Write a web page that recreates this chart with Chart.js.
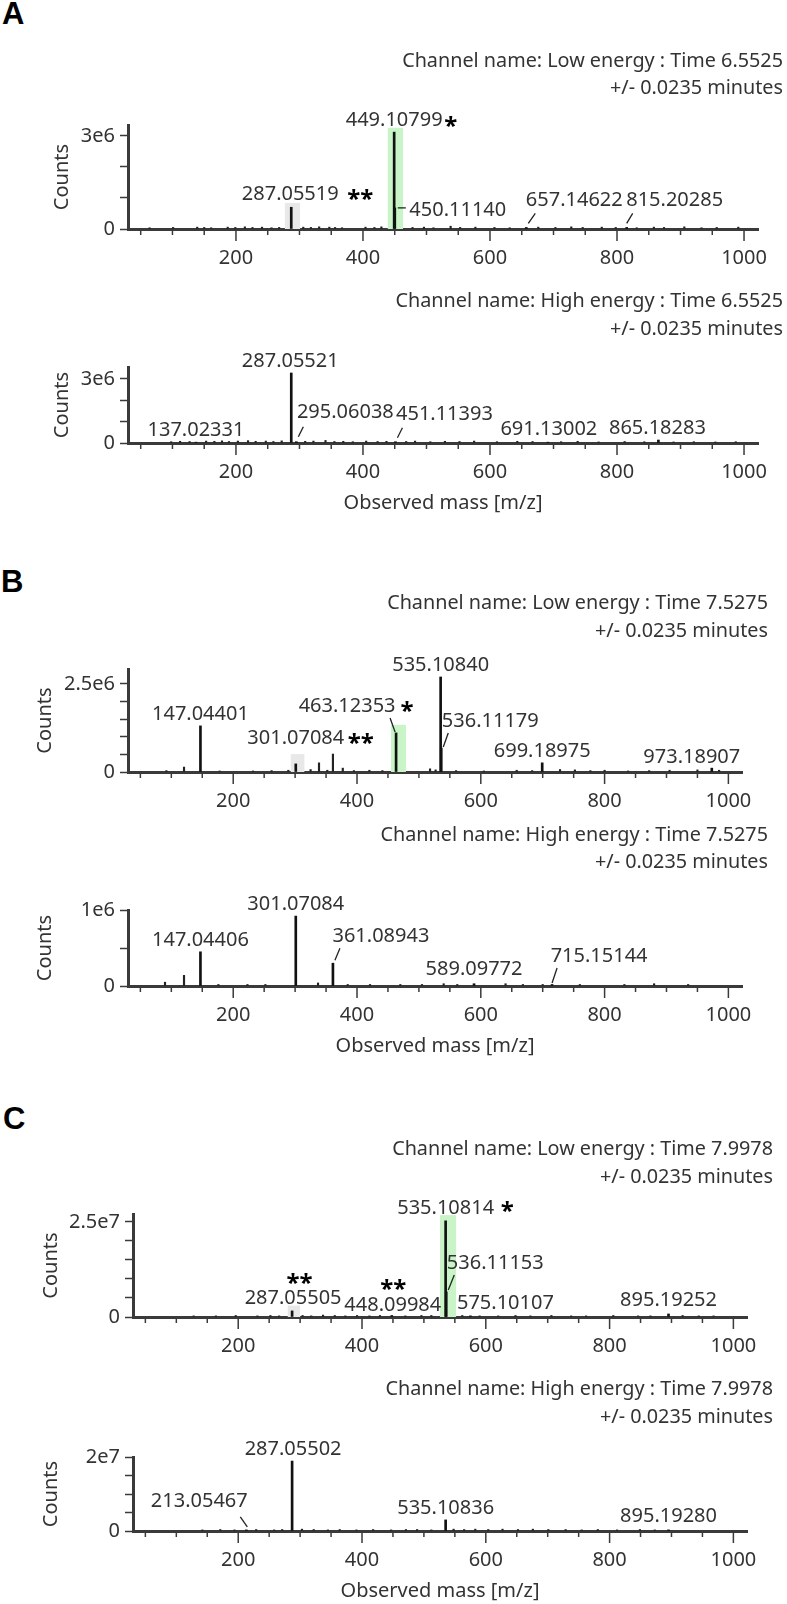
<!DOCTYPE html>
<html>
<head>
<meta charset="utf-8">
<script src="https://cdn.jsdelivr.net/npm/chart.js@4.4.1/dist/chart.umd.min.js"></script>
<style>
  html, body { margin: 0; padding: 0; background: #fff; overflow: hidden; }
  body { width: 787px; height: 1604px; position: relative; font-family: 'Noto Sans', sans-serif; color: #333; }
  canvas { position: absolute; left: 0; }
  .letter { position: absolute; font: bold 31px 'Liberation Sans', Arial, sans-serif; line-height: 31px; color: #000; }
  .chan { position: absolute; font-size: 19.8px; line-height: 27.5px; text-align: right; white-space: nowrap; }
</style>
</head>
<body>
<div class="letter" style="left:2px;top:-2px">A</div>
<div class="letter" style="left:1px;top:566px">B</div>
<div class="letter" style="left:3px;top:1103px">C</div>
<script>
// === shared m/z axis ===
const mzRange = [30, 1022];
const mzTickLabels = [200, 400, 600, 800, 1000];

// === A: low energy ===
const aLowTitle = ['Channel name: Low energy : Time 6.5525', '+/- 0.0235 minutes'];
const aLowMz = [287.05519, 449.10799, 450.11140, 657.14622, 815.20285];
const aLowCounts = [0.70e6, 3.12e6, 0.68e6, 0.05e6, 0.05e6];
const aLowText = ['287.05519', '449.10799', '450.11140', '657.14622', '815.20285'];
const aLowMarks = ['**', '*', '', '', ''];
const aLowOtherMz = [64, 101, 139, 150, 161, 187, 199, 214, 226, 241, 256, 268, 306, 318, 331, 347, 356, 367, 404, 418, 429, 478, 496, 511, 538, 553, 577, 607, 631, 676, 703, 728, 746, 776, 798, 831, 858, 874, 906, 933, 957, 991];
const aLowOtherCounts = [0.04e6, 0.05e6, 0.06e6, 0.05e6, 0.04e6, 0.06e6, 0.05e6, 0.07e6, 0.05e6, 0.06e6, 0.04e6, 0.05e6, 0.06e6, 0.05e6, 0.07e6, 0.06e6, 0.05e6, 0.04e6, 0.06e6, 0.05e6, 0.07e6, 0.05e6, 0.06e6, 0.04e6, 0.09e6, 0.05e6, 0.06e6, 0.05e6, 0.04e6, 0.06e6, 0.05e6, 0.07e6, 0.05e6, 0.06e6, 0.05e6, 0.04e6, 0.06e6, 0.05e6, 0.07e6, 0.04e6, 0.05e6, 0.06e6];
const aLowBands = [[277, 301, 0.84e6], [439, 463, 3.26e6]];
const aLowYTicks = [0, 3e6];
const aLowYTickText = ['0', '3e6'];

// === A: high energy ===
const aHighTitle = ['Channel name: High energy : Time 6.5525', '+/- 0.0235 minutes'];
const aHighMz = [137.02331, 287.05521, 295.06038, 451.11393, 691.13002, 865.18283];
const aHighCounts = [0.04e6, 3.28e6, 0.06e6, 0.06e6, 0.04e6, 0.14e6];
const aHighText = ['137.02331', '287.05521', '295.06038', '451.11393', '691.13002', '865.18283'];
const aHighMarks = ['', '', '', '', '', ''];
const aHighOtherMz = [98, 112, 127, 153, 166, 178, 189, 203, 219, 231, 247, 259, 272, 309, 322, 341, 355, 369, 384, 405, 423, 437, 468, 482, 506, 529, 552, 575, 611, 643, 667, 712, 738, 771, 812, 843, 889, 921, 955, 987];
const aHighOtherCounts = [0.06e6, 0.08e6, 0.07e6, 0.09e6, 0.08e6, 0.10e6, 0.07e6, 0.09e6, 0.11e6, 0.08e6, 0.09e6, 0.07e6, 0.10e6, 0.08e6, 0.09e6, 0.12e6, 0.07e6, 0.08e6, 0.06e6, 0.09e6, 0.07e6, 0.08e6, 0.07e6, 0.09e6, 0.06e6, 0.08e6, 0.07e6, 0.09e6, 0.06e6, 0.08e6, 0.07e6, 0.06e6, 0.08e6, 0.05e6, 0.07e6, 0.06e6, 0.05e6, 0.06e6, 0.05e6, 0.06e6];
const aHighYTicks = [0, 3e6];
const aHighYTickText = ['0', '3e6'];

// === B: low energy ===
const bLowTitle = ['Channel name: Low energy : Time 7.5275', '+/- 0.0235 minutes'];
const bLowMz = [147.04401, 301.07084, 463.12353, 535.10840, 536.11179, 699.18975, 973.18907];
const bLowCounts = [1.31e6, 0.23e6, 1.11e6, 2.70e6, 0.68e6, 0.26e6, 0.11e6];
const bLowText = ['147.04401', '301.07084', '463.12353', '535.10840', '536.11179', '699.18975', '973.18907'];
const bLowMarks = ['', '**', '*', '', '', '', ''];
const bLowOtherMz = [92, 120.5, 178, 232, 262, 289, 325, 338.6, 352, 361.1, 377, 395, 420, 441, 518, 527, 560, 605, 658, 683, 728, 752, 777, 800, 838, 872, 905, 950, 985];
const bLowOtherCounts = [0.04e6, 0.14e6, 0.03e6, 0.03e6, 0.04e6, 0.05e6, 0.07e6, 0.26e6, 0.05e6, 0.51e6, 0.11e6, 0.04e6, 0.05e6, 0.04e6, 0.09e6, 0.06e6, 0.04e6, 0.03e6, 0.05e6, 0.04e6, 0.07e6, 0.06e6, 0.04e6, 0.05e6, 0.03e6, 0.04e6, 0.05e6, 0.06e6, 0.05e6];
const bLowBands = [[293, 315, 0.51e6], [455, 479, 1.34e6]];
const bLowYTicks = [0, 2.5e6];
const bLowYTickText = ['0', '2.5e6'];

// === B: high energy ===
const bHighTitle = ['Channel name: High energy : Time 7.5275', '+/- 0.0235 minutes'];
const bHighMz = [147.04406, 301.07084, 361.08943, 589.09772, 715.15144];
const bHighCounts = [0.45e6, 0.92e6, 0.30e6, 0.03e6, 0.02e6];
const bHighText = ['147.04406', '301.07084', '361.08943', '589.09772', '715.15144'];
const bHighMarks = ['', '', '', '', ''];
const bHighOtherMz = [89.8, 120.5, 176, 223, 252, 337, 385, 421, 470, 505, 540, 562, 640, 668, 700, 760, 832, 880, 935];
const bHighOtherCounts = [0.05e6, 0.14e6, 0.02e6, 0.02e6, 0.02e6, 0.04e6, 0.02e6, 0.02e6, 0.02e6, 0.02e6, 0.03e6, 0.02e6, 0.03e6, 0.02e6, 0.02e6, 0.02e6, 0.02e6, 0.03e6, 0.02e6];
const bHighYTicks = [0, 1e6];
const bHighYTickText = ['0', '1e6'];

// === C: low energy ===
const cLowTitle = ['Channel name: Low energy : Time 7.9978', '+/- 0.0235 minutes'];
const cLowMz = [287.05505, 448.09984, 535.10814, 536.11153, 575.10107, 895.19252];
const cLowCounts = [0.16e7, 0.04e7, 2.53e7, 0.66e7, 0.03e7, 0.08e7];
const cLowText = ['287.05505', '448.09984', '535.10814', '536.11153', '575.10107', '895.19252'];
const cLowMarks = ['**', '**', '*', '', '', ''];
const cLowOtherMz = [128, 164, 196, 231, 252, 266, 304, 318, 337, 356, 373, 392, 412, 429, 470, 496, 512, 562, 590, 620, 648, 672, 706, 738, 762, 806, 846, 866, 918, 944, 968];
const cLowOtherCounts = [0.03e7, 0.03e7, 0.04e7, 0.03e7, 0.04e7, 0.03e7, 0.04e7, 0.03e7, 0.05e7, 0.04e7, 0.03e7, 0.04e7, 0.03e7, 0.04e7, 0.03e7, 0.04e7, 0.04e7, 0.04e7, 0.03e7, 0.03e7, 0.04e7, 0.03e7, 0.04e7, 0.03e7, 0.03e7, 0.04e7, 0.03e7, 0.03e7, 0.04e7, 0.03e7, 0.03e7];
const cLowBands = [[280, 300, 0.30e7], [526, 552, 2.68e7]];
const cLowYTicks = [0, 2.5e7];
const cLowYTickText = ['0', '2.5e7'];

// === C: high energy ===
const cHighTitle = ['Channel name: High energy : Time 7.9978', '+/- 0.0235 minutes'];
const cHighMz = [213.05467, 287.05502, 535.10836, 895.19280];
const cHighCounts = [0.03e7, 1.89e7, 0.30e7, 0.03e7];
const cHighText = ['213.05467', '287.05502', '535.10836', '895.19280'];
const cHighMarks = ['', '', '', ''];
const cHighOtherMz = [142, 171, 194, 229, 258, 271, 303, 322, 345, 364, 391, 418, 447, 471, 489, 512, 548, 565, 583, 604, 627, 652, 676, 701, 729, 755, 781, 812, 849, 873];
const cHighOtherCounts = [0.03e7, 0.04e7, 0.03e7, 0.04e7, 0.03e7, 0.04e7, 0.05e7, 0.04e7, 0.03e7, 0.04e7, 0.03e7, 0.04e7, 0.03e7, 0.04e7, 0.04e7, 0.03e7, 0.05e7, 0.04e7, 0.05e7, 0.04e7, 0.05e7, 0.04e7, 0.05e7, 0.04e7, 0.04e7, 0.03e7, 0.04e7, 0.03e7, 0.04e7, 0.03e7];
const cHighYTicks = [0, 2e7];
const cHighYTickText = ['0', '2e7'];

// --- styles ---
const ink = '#333';
const axisInk = '#3a3a3a';
const bandColors = ['#e8e8e8', '#c8f4c8'];   // grey = aglycone, green = precursor
Chart.defaults.font.family = "'Noto Sans', sans-serif";
Chart.defaults.font.size = 20;
Chart.defaults.color = ink;

// label offsets (px) from each peak tip, leader strokes and star offsets from label centre
const panels = [
  { title: aLowTitle, mz: aLowMz, counts: aLowCounts, text: aLowText, marks: aLowMarks,
    otherMz: aLowOtherMz, otherCounts: aLowOtherCounts, bands: aLowBands, yTicks: aLowYTicks, yTickText: aLowYTickText,
    yMax: 3.35e6, yStep: 1e6, left: 128, right: 758, top: 125, base: 229, countsX: 62,
    titleRight: 783, titleY: 60, xTitle: false,
    pos: [[-1, -14], [0, -13], [63, 1.5], [48, -28], [48, -28]],
    leaders: [null, null, [3, 0, 11, 0], [2, -4, 9, -14], [0, -4, 6, -14]],
    markPos: [[70, 0.5], [56.5, 1.5], null, null, null] },
  { title: aHighTitle, mz: aHighMz, counts: aHighCounts, text: aHighText, marks: aHighMarks,
    otherMz: aHighOtherMz, otherCounts: aHighOtherCounts, bands: [], yTicks: aHighYTicks, yTickText: aHighYTickText,
    yMax: 3.56e6, yStep: 1e6, left: 128, right: 758, top: 367, base: 443, countsX: 62,
    titleRight: 783, titleY: 300.5, xTitle: true,
    pos: [[0, -13], [-1, -13], [49, -31], [49, -29], [1, -14], [-1, -13.5]],
    leaders: [null, null, [2, -5, 7, -15], [2, -4, 7, -14], null, null],
    markPos: [null, null, null, null, null, null] },
  { title: bLowTitle, mz: bLowMz, counts: bLowCounts, text: bLowText, marks: bLowMarks,
    otherMz: bLowOtherMz, otherCounts: bLowOtherCounts, bands: bLowBands, yTicks: bLowYTicks, yTickText: bLowYTickText,
    yMax: 2.926e6, yStep: 0.5e6, left: 128, right: 742, top: 669, base: 772, countsX: 45,
    titleRight: 768, titleY: 602.5, xTitle: false,
    pos: [[0, -13], [0, -26.5], [-49, -27.5], [0, -12.5], [49, -28.5], [0, -12.5], [-20, -12.5]],
    leaders: [null, null, [-6, -15, -1, -1], null, [2, -1, 7, -15], null, null],
    markPos: [null, [65, 0.5], [60, 0.5], null, null, null, null] },
  { title: bHighTitle, mz: bHighMz, counts: bHighCounts, text: bHighText, marks: bHighMarks,
    otherMz: bHighOtherMz, otherCounts: bHighOtherCounts, bands: [], yTicks: bHighYTicks, yTickText: bHighYTickText,
    yMax: 1.0e6, yStep: 0.5e6, left: 128, right: 742, top: 910, base: 986, countsX: 45,
    titleRight: 768, titleY: 834, xTitle: true,
    pos: [[0, -12.5], [0, -13.5], [48, -28.5], [0, -16], [47, -29]],
    leaders: [null, null, [2, -3, 7, -15], null, [0, -1.5, 5, -16.5]],
    markPos: [null, null, null, null, null] },
  { title: cLowTitle, mz: cLowMz, counts: cLowCounts, text: cLowText, marks: cLowMarks,
    otherMz: cLowOtherMz, otherCounts: cLowOtherCounts, bands: cLowBands, yTicks: cLowYTicks, yTickText: cLowYTickText,
    yMax: 2.71e7, yStep: 0.5e7, left: 133, right: 747, top: 1214, base: 1317, countsX: 51,
    titleRight: 773, titleY: 1148.5, xTitle: false,
    pos: [[1, -13.5], [1, -11], [0, -13.5], [49, -29.5], [35, -13.5], [0, -14.5]],
    leaders: [null, null, null, [2, -2, 8, -17], null, null],
    markPos: [[6.5, -19.5], [0.5, -20.5], [61.5, -1.5], null, null, null] },
  { title: cHighTitle, mz: cHighMz, counts: cHighCounts, text: cHighText, marks: cHighMarks,
    otherMz: cHighOtherMz, otherCounts: cHighOtherCounts, bands: [], yTicks: cHighYTicks, yTickText: cHighYTickText,
    yMax: 2.0e7, yStep: 0.5e7, left: 133, right: 747, top: 1457, base: 1531, countsX: 51,
    titleRight: 773, titleY: 1388.5, xTitle: true,
    pos: [[-47, -29.5], [1, -13.5], [0, -12.5], [0, -14.5]],
    leaders: [[-6, -13, 1, -3], null, null, null],
    markPos: [null, null, null, null] }
];

// bands, x tick marks, peak labels
function spectrumNotes(p) {
  return {
    id: 'spectrumNotes',
    beforeDatasetsDraw(chart) {
      const { ctx } = chart, x = chart.scales.x, y = chart.scales.y;
      ctx.save();
      p.bands.forEach((b, i) => {
        const x0 = x.getPixelForValue(b[0]), x1 = x.getPixelForValue(b[1]);
        const yt = y.getPixelForValue(b[2]), y0 = y.getPixelForValue(0);
        ctx.fillStyle = bandColors[i];
        ctx.fillRect(x0, yt, x1 - x0, y0 - yt);
      });
      ctx.restore();
    },
    afterDraw(chart) {
      const { ctx, chartArea } = chart, x = chart.scales.x, y = chart.scales.y;
      ctx.save();
      ctx.strokeStyle = axisInk;
      ctx.lineWidth = 1.5;
      x.ticks.forEach(t => {
        const px = x.getPixelForValue(t.value);
        const len = mzTickLabels.includes(t.value) ? 12 : 6;
        ctx.beginPath();
        ctx.moveTo(px, chartArea.bottom);
        ctx.lineTo(px, chartArea.bottom + len);
        ctx.stroke();
      });
      ctx.textAlign = 'center';
      ctx.textBaseline = 'alphabetic';
      p.mz.forEach((m, i) => {
        const px = x.getPixelForValue(m), py = y.getPixelForValue(p.counts[i]);
        const tx = px + p.pos[i][0], ty = py + p.pos[i][1];
        ctx.font = "20px 'Noto Sans'";
        ctx.fillStyle = ink;
        ctx.fillText(p.text[i], tx, ty + 7);
        const l = p.leaders[i];
        if (l) {
          ctx.strokeStyle = '#222';
          ctx.lineWidth = 1.3;
          ctx.beginPath();
          ctx.moveTo(px + l[0], py + l[1]);
          ctx.lineTo(px + l[2], py + l[3]);
          ctx.stroke();
        }
        if (p.marks[i]) {
          ctx.font = "bold 24px 'Noto Sans'";
          ctx.fillStyle = '#000';
          ctx.fillText(p.marks[i], tx + p.markPos[i][0], ty + p.markPos[i][1] + 13.5);
        }
      });
      ctx.restore();
    }
  };
}

function drawSpectrum(p) {
  const xH = p.xTitle ? 72 : 45;
  const h = 50 + (p.base - p.top) + xH;
  const canvas = document.createElement('canvas');
  canvas.width = 787;
  canvas.height = h;
  canvas.style.top = (p.top - 50) + 'px';
  document.body.appendChild(canvas);

  const t = document.createElement('div');
  t.className = 'chan';
  t.style.right = (787 - p.titleRight) + 'px';
  t.style.top = (p.titleY - 14.4) + 'px';
  t.innerHTML = p.title.join('<br>');
  document.body.appendChild(t);

  new Chart(canvas, {
    type: 'bar',
    data: {
      datasets: [
        { data: p.mz.map((m, i) => ({ x: m, y: p.counts[i] })), backgroundColor: '#111', barThickness: 2 },
        { data: p.otherMz.map((m, i) => ({ x: m, y: p.otherCounts[i] })), backgroundColor: '#222', barThickness: 1.5 }
      ]
    },
    options: {
      responsive: false,
      animation: false,
      devicePixelRatio: 1,
      layout: { padding: { top: 50, right: 787 - p.right, left: 0, bottom: 0 } },
      datasets: { bar: { grouped: false, borderWidth: 0 } },
      plugins: { legend: { display: false }, tooltip: { enabled: false } },
      scales: {
        x: {
          type: 'linear', min: mzRange[0], max: mzRange[1], offset: false,
          grid: { display: true, drawOnChartArea: false, drawTicks: false, offset: false },
          border: { display: true, width: 3, color: axisInk },
          ticks: { stepSize: 50, autoSkip: false, maxRotation: 0, minRotation: 0, includeBounds: false, padding: 17,
                   callback: v => mzTickLabels.includes(v) ? String(v) : '' },
          title: { display: p.xTitle, text: 'Observed mass [m/z]', padding: 0 },
          afterFit: s => { s.height = xH; }
        },
        y: {
          min: 0, max: p.yMax,
          grid: { drawOnChartArea: false, drawTicks: true, tickLength: 8, tickColor: axisInk, tickWidth: 1.5 },
          border: { display: true, width: 3, color: axisInk },
          ticks: { autoSkip: false, padding: 5,
                   callback: v => { const k = p.yTicks.indexOf(v); return k < 0 ? '' : p.yTickText[k]; } },
          // one tick per yStep from zero up to the axis top
          afterBuildTicks: s => {
            const t = [];
            for (let k = 0; k * p.yStep <= p.yMax; k++) t.push({ value: k * p.yStep });
            s.ticks = t;
          },
          title: { display: true, text: 'Counts', padding: { top: p.countsX - 12, bottom: 0 } },
          afterFit: s => { s.width = p.left; }
        }
      }
    },
    plugins: [spectrumNotes(p)]
  });
}

panels.forEach(drawSpectrum);
</script>
</body>
</html>
